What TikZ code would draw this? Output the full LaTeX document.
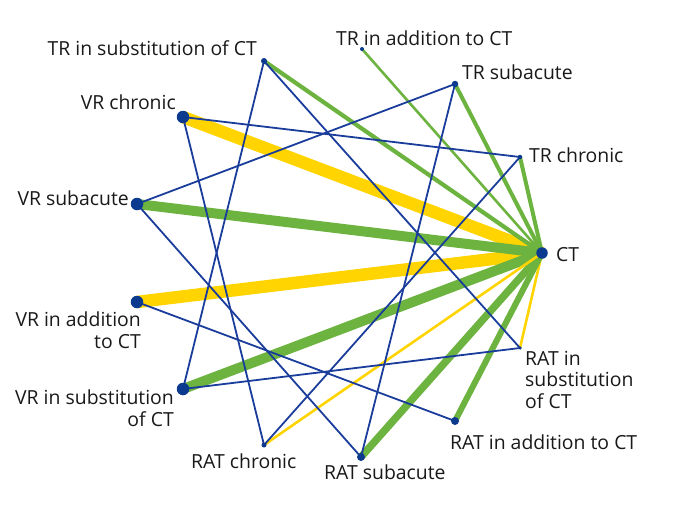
\documentclass[tikz,border=0pt]{standalone}
\usepackage{fontspec}
\setmainfont{Open Sans}
\definecolor{nblue}{HTML}{0B3A8E}
\definecolor{lblue}{HTML}{1A3D9C}
\definecolor{ngreen}{HTML}{6DB33F}
\definecolor{nyellow}{HTML}{FFD400}
\tikzset{
  dot/.style={circle,fill=nblue,inner sep=0pt,minimum size=#1},
  lbl/.style={inner sep=0pt,font=\fontsize{19.4}{21.5}\selectfont,text=black!90},
  bl/.style={draw=lblue,line width=1.8pt},
  gr/.style={draw=ngreen,line width=#1},
  ye/.style={draw=nyellow,line width=#1},
}
\begin{document}
\begin{tikzpicture}[x=1pt,y=-1pt]
\useasboundingbox (0,0) rectangle (677,509);
% node coordinates
\coordinate (TRs) at (264,61);
\coordinate (TRa) at (362,49);
\coordinate (TRsa) at (455,84);
\coordinate (TRc) at (520,157);
\coordinate (CT) at (542,253);
\coordinate (RATs) at (520,348);
\coordinate (RATa) at (455,421);
\coordinate (RATsa) at (361,457);
\coordinate (RATc) at (264,445);
\coordinate (VRs) at (183,389);
\coordinate (VRa) at (137,302);
\coordinate (VRsa) at (137,204);
\coordinate (VRc) at (183,117);
% coloured edges
\draw[ye=12.5pt] (CT) -- (VRc);
\draw[ye=12.5pt] (CT) -- (VRa);
\draw[gr=10pt] (CT) -- (VRsa);
\draw[gr=10pt] (CT) -- (VRs);
\draw[gr=4.2pt] (CT) -- (TRs);
\draw[gr=2.6pt] (CT) -- (TRa);
\draw[gr=4pt] (CT) -- (TRsa);
\draw[gr=4pt] (CT) -- (TRc);
\draw[ye=2.6pt] (CT) -- (RATs);
\draw[gr=6pt] (CT) -- (RATa);
\draw[gr=7.5pt] (CT) -- (RATsa);
\draw[ye=2.6pt] (CT) -- (RATc);
% blue edges
\draw[bl] (TRs) -- (VRs);
\draw[bl] (TRs) -- (RATs);
\draw[bl] (VRc) -- (TRc);
\draw[bl] (VRc) -- (RATc);
\draw[bl] (VRsa) -- (TRsa);
\draw[bl] (VRsa) -- (RATsa);
\draw[bl] (VRa) -- (RATa);
\draw[bl] (VRs) -- (RATs);
\draw[bl] (RATc) -- (TRc);
\draw[bl] (RATsa) -- (TRsa);
% dots
\node[dot=11.5pt] (nCT) at (CT) {};
\node[dot=12.5pt] (nVRc) at (VRc) {};
\node[dot=12.5pt] (nVRsa) at (VRsa) {};
\node[dot=12.5pt] (nVRa) at (VRa) {};
\node[dot=12.5pt] (nVRs) at (VRs) {};
\node[dot=6pt] (nTRs) at (TRs) {};
\node[dot=4pt] (nTRa) at (TRa) {};
\node[dot=6.5pt] (nTRsa) at (TRsa) {};
\node[dot=4.5pt] (nTRc) at (TRc) {};
\node[dot=3.5pt] (nRATs) at (RATs) {};
\node[dot=8pt] (nRATa) at (RATa) {};
\node[dot=8pt] (nRATsa) at (RATsa) {};
\node[dot=5pt] (nRATc) at (RATc) {};
% labels
\node[lbl,anchor=east] (tTRs) at (257,48) {TR in substitution of CT};
\node[lbl,anchor=west] (tTRa) at (336,38) {TR in addition to CT};
\node[lbl,anchor=west] (tTRsa) at (462,72) {TR subacute};
\node[lbl,anchor=west] (tTRc) at (529,155) {TR chronic};
\node[lbl,anchor=west] (tCT) at (556,255) {CT};
\node[lbl,anchor=north west,align=left] (tRATs) at (525,351) {RAT in\\substitution\\of CT};
\node[lbl,anchor=west] (tRATa) at (450,442) {RAT in addition to CT};
\node[lbl,anchor=west] (tRATsa) at (324,472) {RAT subacute};
\node[lbl,anchor=west] (tRATc) at (191,461) {RAT chronic};
\node[lbl,anchor=north east,align=right] (tVRs) at (174,390) {VR in substitution\\of CT};
\node[lbl,anchor=north east,align=right] (tVRa) at (141,312) {VR in addition\\to CT};
\node[lbl,anchor=east] (tVRsa) at (129,198) {VR subacute};
\node[lbl,anchor=east] (tVRc) at (176,102) {VR chronic};
\end{tikzpicture}
\end{document}
